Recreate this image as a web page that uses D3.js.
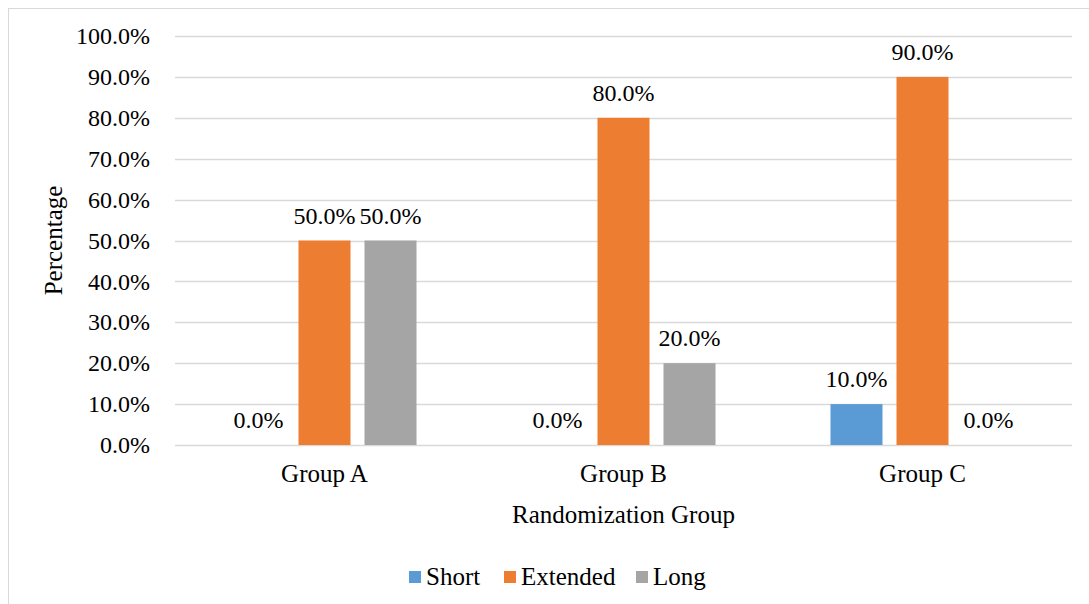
<!DOCTYPE html>
<html>
<head>
<meta charset="utf-8">
<script src="https://cdn.jsdelivr.net/npm/d3@7"></script>
<style>
  html, body { margin: 0; padding: 0; background: #fff; }
  svg { display: block; font-family: "Liberation Serif", "Times New Roman", serif; }
</style>
</head>
<body>
<svg id="chart" width="1089" height="604"></svg>
<script>
// Share of each duration type within each randomization group
const categories = ["Group A", "Group B", "Group C"];
const seriesNames = ["Short", "Extended", "Long"];
const seriesColors = ["#5b9bd5", "#ed7d31", "#a5a5a5"];
const shortValues = [0.0, 0.0, 0.10];
const extendedValues = [0.50, 0.80, 0.90];
const longValues = [0.50, 0.20, 0.0];
const yTicks = [0, 0.1, 0.2, 0.3, 0.4, 0.5, 0.6, 0.7, 0.8, 0.9, 1.0];

const seriesValues = [shortValues, extendedValues, longValues];

const svg = d3.select("#chart");
const W = 1089, H = 604;
const FONT = "Liberation Serif, Times New Roman, serif";
const labelSize = 24;
const titleSize = 25;

// Outer chart frame
svg.append("rect")
  .attr("x", 8.5).attr("y", 8.5)
  .attr("width", W + 10).attr("height", H + 10)
  .attr("fill", "#fff").attr("stroke", "#d9d9d9").attr("stroke-width", 1);

const plot = { left: 175, right: 1072, top: 36, bottom: 445 };

const x0 = d3.scaleBand().domain(categories)
  .range([plot.left, plot.right]).paddingInner(0).paddingOuter(0);
const x1 = d3.scaleBand().domain(seriesNames)
  .range([0, x0.bandwidth()]).paddingInner(0.212).paddingOuter(0.871);
const y = d3.scaleLinear().domain([0, 1]).range([plot.bottom, plot.top]);

const fmt = d3.format(".1%");

// Horizontal gridlines
svg.append("g")
  .selectAll("line").data(yTicks).join("line")
  .attr("x1", plot.left).attr("x2", plot.right)
  .attr("y1", d => Math.round(y(d)) + 0.5).attr("y2", d => Math.round(y(d)) + 0.5)
  .attr("stroke", "#d9d9d9").attr("stroke-width", 1.3);

// Y axis labels
const yAxis = d3.axisLeft(y).tickValues(yTicks).tickFormat(fmt).tickSize(0).tickPadding(25);
const gy = svg.append("g").attr("transform", `translate(${plot.left},0)`).call(yAxis);
gy.select(".domain").remove();
gy.selectAll("text")
  .attr("font-family", FONT)
  .attr("font-size", labelSize).attr("fill", "#000");

// X axis labels
const xAxis = d3.axisBottom(x0).tickSize(0).tickPadding(19);
const gx = svg.append("g").attr("transform", `translate(0,${plot.bottom})`).call(xAxis);
gx.select(".domain").remove();
gx.selectAll("text")
  .attr("font-family", FONT)
  .attr("font-size", titleSize).attr("fill", "#000");

// Bars and value labels
const flat = [];
categories.forEach((c, i) => {
  seriesNames.forEach((s, j) => {
    flat.push({ cat: c, series: s, value: seriesValues[j][i], color: seriesColors[j] });
  });
});

const groups = svg.append("g");
groups.selectAll("rect").data(flat).join("rect")
  .attr("x", d => x0(d.cat) + x1(d.series))
  .attr("width", x1.bandwidth())
  .attr("y", d => y(d.value))
  .attr("height", d => y(0) - y(d.value))
  .attr("fill", d => d.color);

groups.selectAll("text").data(flat).join("text")
  .attr("x", d => x0(d.cat) + x1(d.series) + x1.bandwidth() / 2)
  .attr("y", d => y(d.value) - 17)
  .attr("text-anchor", "middle")
  .attr("font-size", labelSize).attr("fill", "#000")
  .text(d => fmt(d.value));

// Axis titles
svg.append("text")
  .attr("transform", `translate(62,${(plot.top + plot.bottom) / 2}) rotate(-90)`)
  .attr("text-anchor", "middle")
  .attr("font-size", titleSize).attr("fill", "#000")
  .text("Percentage");

svg.append("text")
  .attr("x", (plot.left + plot.right) / 2).attr("y", 523)
  .attr("text-anchor", "middle")
  .attr("font-size", titleSize).attr("fill", "#000")
  .text("Randomization Group");

// Legend
const legendX = [409, 504, 636];
const legend = svg.append("g");
seriesNames.forEach((s, j) => {
  legend.append("rect")
    .attr("x", legendX[j]).attr("y", 571)
    .attr("width", 12).attr("height", 12)
    .attr("fill", seriesColors[j]);
  legend.append("text")
    .attr("x", legendX[j] + 17).attr("y", 585)
    .attr("font-size", titleSize).attr("fill", "#000")
    .text(s);
});
</script>
</body>
</html>
